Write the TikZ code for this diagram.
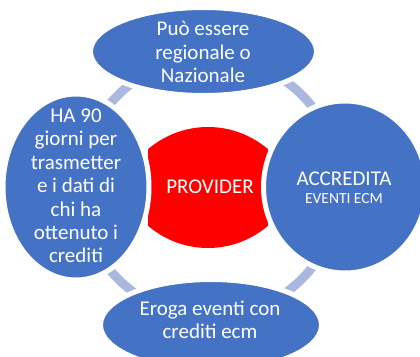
\documentclass[tikz,border=0pt]{standalone}
\usepackage{fontspec}
\setmainfont{Carlito}
\usetikzlibrary{shapes.geometric}
\definecolor{blu}{HTML}{4472C4}
\definecolor{ringc}{HTML}{AAB8DF}
\definecolor{rosso}{HTML}{FF0000}
\begin{document}
\begin{tikzpicture}[x=1pt,y=-1pt,
  outer/.style={ellipse, fill=blu, draw=white, line width=5pt, inner sep=0pt},
  lbl/.style={text=white, align=center, font=\fontsize{21}{23.4}\selectfont, inner sep=0pt},
]
\useasboundingbox (0,0) rectangle (420,356);
\begin{scope}
\clip (0,0) rectangle (420,356);
% cycle ring behind the shapes
\node[circle, draw=ringc, line width=9pt, minimum size=260pt, inner sep=0pt] (ring) at (210,187) {};
% red centre shape
\begin{scope}
\clip (208,219) circle[radius=92pt];
\clip (208,156) circle[radius=92pt];
\fill[rosso] (147.5,120) rectangle (268,255);
\end{scope}
% outer shapes
\node[outer, minimum width=226pt, minimum height=88pt] (top) at (203.5,51.5) {};
\node[outer, minimum width=146pt, minimum height=186pt] (left) at (76,187) {};
\node[outer, minimum width=163pt, minimum height=172pt] (right) at (345,187) {};
\node[outer, minimum width=221pt, minimum height=91pt] (bottom) at (211,325) {};
% texts
\node[lbl] (ttop) at (203,52) {Può essere\\regionale o\\Nazionale};
\node[lbl] (tleft) at (76,186) {HA 90\\giorni per\\trasmetter\\e i dati di\\chi ha\\ottenuto i\\crediti};
\node[lbl] (tcenter) at (210,186.3) {PROVIDER};
\node[lbl] (tright) at (344,187.7) {ACCREDITA\\[-4.5pt]{\fontsize{15.5}{18}\selectfont EVENTI ECM}};
\node[lbl] (tbottom) at (210,320) {Eroga eventi con\\crediti ecm};
\end{scope}
\end{tikzpicture}
\end{document}
